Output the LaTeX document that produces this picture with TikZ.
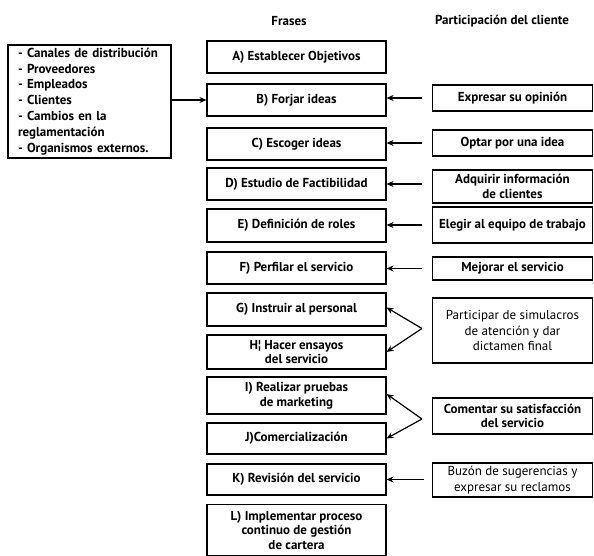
\documentclass[tikz,border=0pt]{standalone}
\usepackage{fontspec}
\setmainfont{PT Sans}
\usetikzlibrary{arrows.meta,calc}
\begin{document}
\begin{tikzpicture}[x=1pt,y=-1pt,
  box/.style={draw,line width=1.1pt,inner sep=1pt,font=\fontsize{13}{14.5}\selectfont\bfseries,align=center},
  fbox/.style={box,minimum width=179pt},
  pbox/.style={box,minimum width=160pt},
  reg/.style={font=\fontsize{13}{15.5}\selectfont},
  head/.style={font=\fontsize{13}{14}\selectfont\bfseries},
  arr/.style={line width=1.2pt,-{Stealth[length=7pt,width=6pt]}}]
\useasboundingbox (0,0) rectangle (594,556);
\node[head] (h1) at (289,21) {Frases};
\node[head] (h2) at (502,21) {Participación del cliente};
% left box
\node[draw,line width=1.1pt,minimum width=163pt,minimum height=113pt,inner xsep=0pt,inner ysep=2pt,align=left,
  font=\fontsize{13}{15.8}\selectfont\bfseries,text width=143pt] (src) at (89.5,101.5)
  {- Canales de distribución\\- Proveedores\\- Empleados\\- Clientes\\- Cambios en la\\reglamentación\\- Organismos externos.};
% middle column
\node[fbox,minimum height=32pt] (A) at (296.5,57) {A) Establecer Objetivos};
\node[fbox,minimum height=32pt] (B) at (296.5,100) {B) Forjar ideas};
\node[fbox,minimum height=32pt] (C) at (296.5,144) {C) Escoger ideas};
\node[fbox,minimum height=32pt] (D) at (296.5,184) {D) Estudio de Factibilidad};
\node[fbox,minimum height=33pt] (E) at (296.5,225.5) {E) Definición de roles};
\node[fbox,minimum height=32pt] (F) at (296.5,268) {F) Perfilar el servicio};
\node[fbox,minimum height=33pt] (G) at (296.5,309.5) {G) Instruir al personal};
\node[fbox,minimum height=34pt] (H) at (296.5,352) {H¦ Hacer ensayos\\del servicio};
\node[fbox,minimum height=37pt] (I) at (296.5,395.5) {I) Realizar pruebas\\de marketing};
\node[fbox,minimum height=31pt] (J) at (296.5,438.5) {J)Comercialización};
\node[fbox,minimum height=31pt] (K) at (296.5,479.5) {K) Revisión del servicio};
\node[fbox,minimum height=51pt] (L) at (296.5,530) {L) Implementar proceso\\continuo de gestión\\de cartera};
% right column
\node[pbox,minimum height=26pt] (p1) at (512.5,98) {Expresar su opinión};
\node[pbox,minimum height=26pt] (p2) at (512.5,143) {Optar por una idea};
\node[pbox,minimum height=33pt] (p3) at (512.5,186.5) {Adquirir información\\de clientes};
\node[pbox,minimum height=36pt] (p4) at (512.5,225) {Elegir al equipo de trabajo};
\node[pbox,minimum height=23pt] (p5) at (512.5,268.5) {Mejorar el servicio};
\node[pbox,minimum height=65pt,reg] (p6) at (512.5,330.5) {Participar de simulacros\\de atención y dar\\dictamen final};
\node[pbox,minimum height=36pt] (p7) at (512.5,416) {Comentar su satisfacción\\del servicio};
\node[pbox,minimum height=34pt,reg] (p8) at (512.5,480) {Buzón de sugerencias y\\expresar su reclamos};
% arrows
\draw[arr] (src.east |- B.west) -- (B.west);
\draw[arr] ([xshift=-10pt]p1.west) -- (p1.west -| B.east);
\draw[arr] ([xshift=-10pt]p2.west) -- (p2.west -| C.east);
\draw[arr] ([xshift=-10pt]p3.west |- D.east) -- (D.east);
\draw[arr] ([xshift=-10pt]p4.west) -- (p4.west -| E.east);
\draw[arr] ([xshift=-10pt]p5.west) -- (p5.west -| F.east);
\coordinate (v6) at ([xshift=-10pt,yshift=2pt]p6.west);
\draw[arr] (v6) -- ([yshift=2pt]G.east);
\draw[arr] (v6) -- (H.east);
\coordinate (v7) at ([xshift=-10pt,yshift=-3pt]p7.west);
\draw[arr] (v7) -- ([yshift=1.5pt]I.east);
\draw[arr] (v7) -- (J.east);
\draw[arr] ([xshift=-8pt]p8.west |- K.east) -- (K.east);
\end{tikzpicture}
\end{document}
